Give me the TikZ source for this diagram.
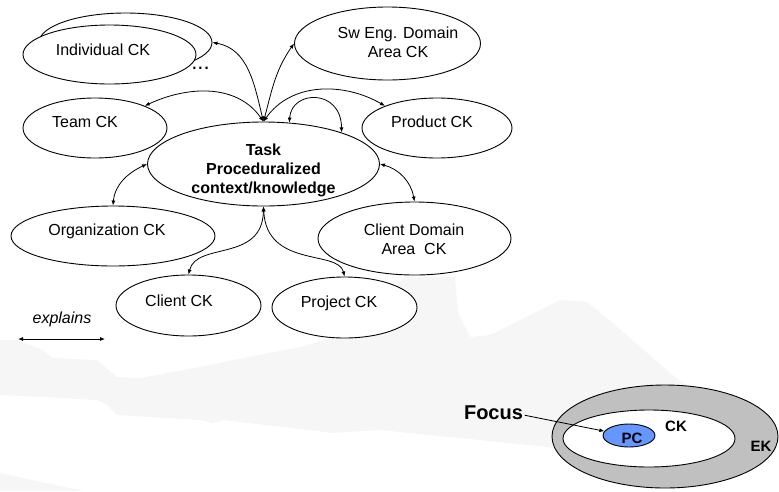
\documentclass[tikz,border=0pt]{standalone}
\usepackage{fontspec}
\setmainfont{Liberation Sans}
\usetikzlibrary{arrows.meta,shapes.geometric}
\definecolor{bgshade}{RGB}{246,246,246}
\definecolor{ekgray}{RGB}{192,192,192}
\definecolor{pcblue}{RGB}{102,150,255}
\begin{document}
\begin{tikzpicture}[x=1pt,y=1pt,
  ell/.style={draw=black, line width=0.9pt, ellipse, inner sep=0pt, fill=white},
  lbl/.style={font=\fontsize{16}{19}\selectfont, anchor=base, inner sep=0pt},
  blbl/.style={font=\bfseries\fontsize{16}{19}\selectfont, anchor=base, inner sep=0pt},
  sml/.style={font=\bfseries\fontsize{15}{18}\selectfont, anchor=base, inner sep=0pt},
  tip/.style={Latex[length=5pt,width=4pt]},
  link/.style={line width=0.8pt, {Latex[length=5pt,width=4pt]}-{Latex[length=5pt,width=4pt]}},
]
\useasboundingbox (0,0) rectangle (779,-491);

% faint backdrop silhouette
\fill[bgshade] (0,-340) -- (17,-340) -- (43,-350) -- (53,-358) -- (97,-360) -- (117,-377)
  -- (140,-378) -- (200,-367) -- (233,-360) -- (300,-347) -- (333,-338) -- (380,-300)
  -- (405,-277) -- (455,-277) -- (458,-313) -- (470,-337) -- (490,-335) -- (540,-310)
  -- (560,-300) -- (587,-302) -- (613,-323) -- (670,-373) -- (720,-410) -- (700,-470)
  -- (600,-455) -- (547,-447) -- (480,-440) -- (380,-430) -- (333,-433) -- (223,-420)
  -- (213,-423) -- (200,-420) -- (117,-415) -- (107,-405) -- (97,-400) -- (43,-397)
  -- (0,-395) -- cycle;
\fill[bgshade] (0,-473) -- (83,-491) -- (0,-491) -- cycle;

% context knowledge ellipses
\node[ell, minimum width=173, minimum height=59] (indivB) at (125.5,-42.5) {};
\node[ell, minimum width=173, minimum height=59] (indiv) at (109.5,-54.5) {};
\node[ell, minimum width=186, minimum height=73] (sweng) at (387.5,-43.5) {};
\node[ell, minimum width=144, minimum height=60] (team) at (95,-128) {};
\node[ell, minimum width=150, minimum height=60] (product) at (437,-128) {};
\node[ell, minimum width=232, minimum height=84] (task) at (263.5,-164) {};
\node[ell, minimum width=204, minimum height=60] (org) at (113,-236) {};
\node[ell, minimum width=193, minimum height=73] (clientdom) at (414.5,-238.5) {};
\node[ell, minimum width=145, minimum height=61] (client) at (188.5,-305.5) {};
\node[ell, minimum width=145, minimum height=61] (project) at (344.5,-307.5) {};

% labels
\node[lbl] (indivT) at (103,-55) {Individual CK};
\node[lbl, font=\fontsize{22}{24}\selectfont] (dots) at (200.5,-69) {...};
\node[lbl] (swengT1) at (398,-38) {Sw Eng. Domain};
\node[lbl] (swengT2) at (398,-57) {Area CK};
\node[lbl] (teamT) at (85,-127) {Team CK};
\node[lbl] (productT) at (432,-127) {Product CK};
\node[blbl] (taskT1) at (263.5,-155) {Task};
\node[blbl] (taskT2) at (263.5,-174) {Proceduralized};
\node[blbl] (taskT3) at (263.5,-193) {context/knowledge};
\node[lbl] (orgT) at (107,-235) {Organization CK};
\node[lbl] (clientdomT1) at (414,-235) {Client Domain};
\node[lbl] (clientdomT2) at (414,-254) {Area\ \ CK};
\node[lbl] (clientT) at (179,-306) {Client CK};
\node[lbl] (projectT) at (339,-307) {Project CK};

% explains relations
\draw[link] (task.north) to[out=104,in=-10] (indivB.east);
\draw[link] (task.north) to[out=75,in=-125] (sweng.west);
\draw[link] (task.north) to[out=125,in=25] (team.24);
\draw[link] (task.north) to[out=55,in=150] (product.157);
\draw[link] (task.58) .. controls +(2,33) and +(0,44) .. (task.22);
\draw[link] (task.east) to[out=-15,in=100] (clientdom.north);
\draw[link] (task.west) to[out=205,in=85] (org.north);
\draw[link] (task.south) .. controls +(-1,-56) and +(8,33) .. (client.north);
\draw[link] (task.south) .. controls +(3,-62) and +(-6,27) .. (project.north);

% legend
\node[lbl, font=\itshape\fontsize{16}{19}\selectfont] (explT) at (62,-323) {explains};
\coordinate (legL) at (18,-339);
\coordinate (legR) at (105,-339);
\draw[link] (legL) -- (legR);

% knowledge nesting: EK > CK > PC
\node[ell, fill=ekgray, minimum width=226, minimum height=103] (ek) at (665,-436.5) {};
\node[ell, minimum width=172, minimum height=57] (ck) at (649,-438.5) {};
\node[ell, fill=pcblue, minimum width=52, minimum height=23] (pc) at (629,-435.5) {};
\node[sml] (pcT) at (632,-443) {PC};
\node[sml] (ckT) at (676,-431) {CK};
\node[sml] (ekT) at (761,-451) {EK};
\node[font=\bfseries\fontsize{20}{24}\selectfont, anchor=base, inner sep=1.5pt] (focus) at (493.5,-419) {Focus};
\draw[line width=0.8pt, -{Latex[length=5pt,width=4pt]}] ([yshift=-3pt]focus.east) -- (pc.170);
\end{tikzpicture}
\end{document}
